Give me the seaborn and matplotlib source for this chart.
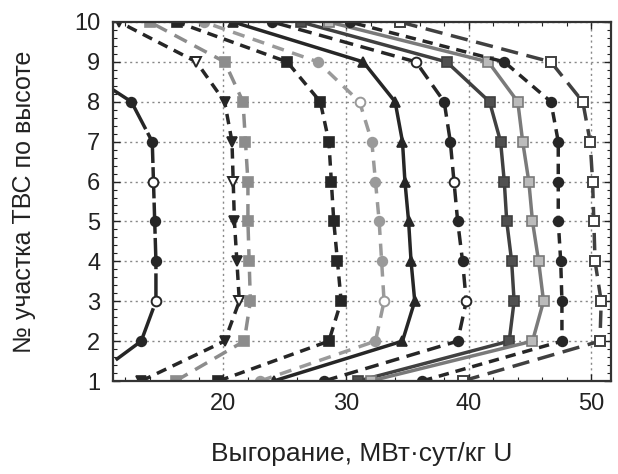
import matplotlib
matplotlib.use("Agg")
import matplotlib.pyplot as plt
from matplotlib.ticker import MultipleLocator
import seaborn as sns
import pandas as pd

sns.set_style("ticks")
plt.rcParams['font.family'] = ['Liberation Sans', 'DejaVu Sans']

# Section number along the fuel assembly height
sections = [1, 2, 3, 4, 5, 6, 7, 8, 9, 10]

# Burnup (MW*day/kg U) per section for each curve, left to right
curve_a = [8.9, 13.3, 14.5, 14.5, 14.4, 14.3, 14.2, 12.5, 7.5, 4.0]
curve_b = [13.3, 20.1, 21.3, 21.1, 20.9, 20.8, 20.7, 20.1, 17.8, 11.5]
curve_c = [16.1, 21.7, 22.2, 22.1, 22.0, 22.0, 21.8, 21.6, 20.1, 14.0]
curve_d = [19.6, 28.6, 29.6, 29.3, 29.0, 28.8, 28.6, 27.9, 25.2, 16.2]
curve_e = [23.0, 32.4, 33.1, 32.9, 32.7, 32.4, 32.1, 31.1, 27.7, 18.4]
curve_f = [24.1, 34.6, 35.6, 35.3, 35.1, 34.8, 34.6, 34.0, 31.4, 20.8]
curve_g = [28.2, 39.1, 39.8, 39.5, 39.1, 38.8, 38.5, 38.0, 35.7, 24.0]
curve_h = [31.0, 43.3, 43.7, 43.5, 43.1, 42.9, 42.6, 41.7, 38.2, 26.3]
curve_i = [32.0, 45.2, 46.1, 45.7, 45.2, 44.9, 44.4, 44.0, 41.6, 28.6]
curve_j = [36.2, 47.6, 47.6, 47.5, 47.3, 47.3, 47.3, 46.7, 42.9, 30.3]
curve_k = [39.5, 50.7, 50.8, 50.3, 50.2, 50.1, 49.9, 49.3, 46.7, 34.4]

x_ticks = [20, 30, 40, 50]
y_ticks = sections

series = {
    "A": curve_a, "B": curve_b, "C": curve_c, "D": curve_d, "E": curve_e,
    "F": curve_f, "G": curve_g, "H": curve_h, "I": curve_i, "J": curve_j,
    "K": curve_k,
}

# style: color, dash pattern, marker, marker face, sections with open markers
styles = {
    "A": ("#262626", (9, 1.2), "o", "#262626", [3, 6, 9]),
    "B": ("#262626", (3, 2), "v", "#262626", [3, 6, 9]),
    "C": ("#8c8c8c", (4, 2.5), "s", "#8c8c8c", []),
    "D": ("#262626", (3, 2), "s", "#262626", []),
    "E": ("#9a9a9a", (3.5, 2.5), "o", "#9a9a9a", [3, 8]),
    "F": ("#262626", None, "^", "#262626", []),
    "G": ("#262626", (4, 2.2), "o", "#262626", [3, 6, 9]),
    "H": ("#404040", None, "s", "#505050", []),
    "I": ("#7a7a7a", None, "s", "#bbbbbb", []),
    "J": ("#262626", (3, 2), "o", "#262626", []),
    "K": ("#404040", (5, 2.5), "s", "white", list(range(1, 11))),
}

rows = []
for name, vals in series.items():
    for s, v in zip(sections, vals):
        rows.append({"curve": name, "section": s, "burnup": v})
df = pd.DataFrame(rows)

fig = plt.figure(figsize=(6.18, 4.74), dpi=100)
ax = fig.add_axes([113 / 618, 1 - 381 / 474, 498 / 618, 359 / 474])

for name in series:
    color, dash, marker, face, open_at = styles[name]
    sub = df[df["curve"] == name].sort_values("section")
    ls = "-" if dash is None else (0, dash)
    filled_idx = [i for i, s in enumerate(sub["section"]) if s not in open_at]
    open_idx = [i for i, s in enumerate(sub["section"]) if s in open_at]
    sns.lineplot(data=sub, x="burnup", y="section", orient="y", sort=False,
                 ax=ax, color=color, linewidth=2.5, linestyle=ls,
                 marker=marker, markersize=7, markevery=filled_idx,
                 markerfacecolor=face, markeredgecolor=color,
                 markeredgewidth=1.2, legend=False)
    if open_idx:
        sns.lineplot(data=sub, x="burnup", y="section", orient="y", sort=False,
                     ax=ax, color=color, linestyle="none",
                     marker=marker, markersize=7, markevery=open_idx,
                     markerfacecolor="white", markeredgecolor=color,
                     markeredgewidth=1.4, legend=False)

ax.set_xlim(11, 51.6)
ax.set_ylim(1, 10)
ax.set_xticks(x_ticks)
ax.set_yticks(y_ticks)
ax.xaxis.set_minor_locator(MultipleLocator(2))
ax.yaxis.set_minor_locator(MultipleLocator(0.2))
ax.tick_params(which="both", direction="in", top=True, right=True,
               labelsize=17, colors="#222222")
ax.tick_params(which="major", length=5, width=1, pad=9)
ax.tick_params(which="minor", length=3, width=0.8)
ax.grid(True, which="major", linestyle=(0, (1.5, 2.5)), color="#888888",
        linewidth=1.0)
for sp in ax.spines.values():
    sp.set_linewidth(1.6)
    sp.set_color("#333333")

ax.set_xlabel("Выгорание, МВт·сут/кг U", fontsize=19, color="#222222")
ax.set_ylabel("№ участка ТВС по высоте", fontsize=18, color="#222222")
ax.xaxis.set_label_coords(0.5, -0.17)
ax.yaxis.set_label_coords(-0.155, 0.5)

fig.savefig("out.png", dpi=100)
